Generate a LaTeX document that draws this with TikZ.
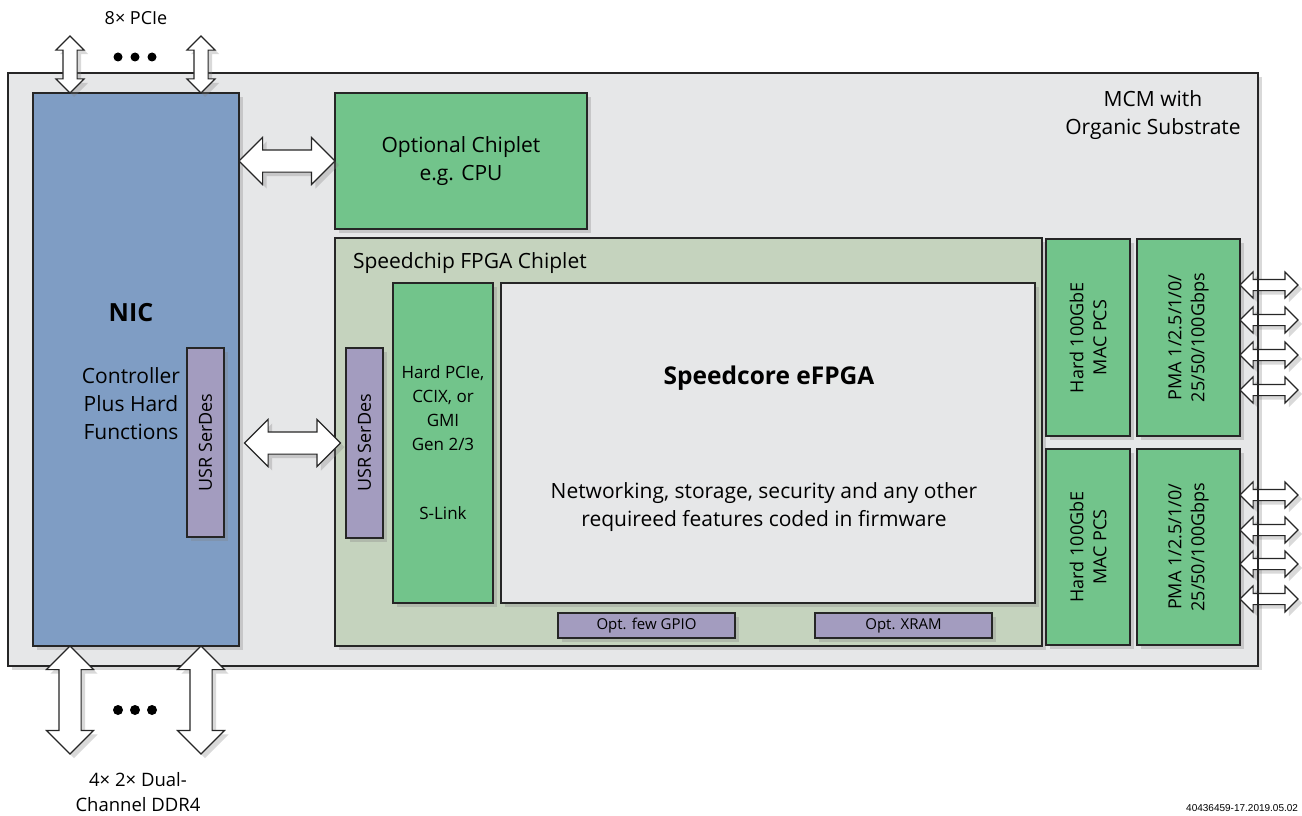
\documentclass[tikz,border=0pt]{standalone}
\usepackage{fontspec}
\setmainfont{Open Sans}
\newfontfamily\idfont{Liberation Sans}
\usepackage{xcolor}
\usetikzlibrary{shapes.arrows, shadows, positioning, calc}

\definecolor{mcmgray}{HTML}{E6E7E8}
\definecolor{nicblue}{HTML}{7F9DC4}
\definecolor{chipgreen}{HTML}{72C48B}
\definecolor{fpgagreen}{HTML}{C5D3BE}
\definecolor{serdespurple}{HTML}{A39CBF}

\begin{document}
\begin{tikzpicture}[
    x=1pt, y=-1pt,
    every node/.style={inner sep=0pt, outer sep=0pt, align=center, font=\fontsize{21}{28}\selectfont},
    box/.style={rectangle, draw=black!85, line width=1.2pt,
        drop shadow={shadow xshift=4pt, shadow yshift=-4pt, opacity=0.3}},
    mcm/.style={box, fill=mcmgray},
    nic/.style={box, fill=nicblue},
    chip/.style={box, fill=chipgreen},
    fpga/.style={box, fill=fpgagreen},
    serdes/.style={box, fill=serdespurple},
    core/.style={box, fill=mcmgray},
    busarrow/.style={double arrow, draw=black!85, line width=1.1pt, fill=white,
        inner xsep=0pt, inner ysep=10.5pt, double arrow head extend=12.5pt,
        minimum width=0pt, sloped,
        drop shadow={shadow xshift=4pt, shadow yshift=-4pt, opacity=0.3}},
    pciearrow/.style={busarrow, inner ysep=6.5pt, double arrow head extend=7pt},
    lanearrow/.style={busarrow, inner ysep=5pt, double arrow head extend=7.5pt},
    rottext/.style={rotate=90, font=\fontsize{18}{23}\selectfont}
]
\useasboundingbox (0,0) rectangle (1302,816);

\node[mcm, minimum width=1250pt, minimum height=593pt] (mcm) at (633,369.5) {};
\node (mcmlabel) at (1153,115) {MCM with\\Organic Substrate};

\node[nic, minimum width=206pt, minimum height=553pt] (nic) at (136,369.5) {};
\node[font=\fontsize{25}{28}\selectfont\bfseries] (nictitle) at (131,313) {NIC};
\node (nictext) at (131,404) {Controller\\Plus Hard\\Functions};
\node[serdes, minimum width=37pt, minimum height=189pt] (nicserdes) at (205.5,442.5) {};
\node[rottext] (nicserdeslabel) at (nicserdes) {USR SerDes};

\node[chip, minimum width=252pt, minimum height=136pt] (opt) at (461,161) {Optional Chiplet\\e.g. CPU};

\node[fpga, minimum width=707pt, minimum height=408pt] (fpga) at (688.5,442) {};
\node[anchor=west] (fpgalabel) at (353,263) {Speedchip FPGA Chiplet};
\node[serdes, minimum width=37pt, minimum height=190pt] (fserdes) at (364.5,443) {};
\node[rottext] (fserdeslabel) at (fserdes) {USR SerDes};
\node[chip, minimum width=100pt, minimum height=320pt, font=\fontsize{17}{24}\selectfont]
    (pcie) at (443,443) {Hard PCIe,\\CCIX, or\\GMI\\Gen 2/3\\[45pt]S-Link};
\node[core, minimum width=534pt, minimum height=320pt] (efpga) at (768,443) {};
\node[font=\fontsize{24.5}{28}\selectfont\bfseries] (efpgatitle) at (769,378) {Speedcore eFPGA};
\node (efpgatext) at (764,507) {Networking, storage, security and any other\\requireed features coded in firmware};
\node[serdes, minimum width=177pt, minimum height=25pt, font=\fontsize{15}{18}\selectfont] (gpio) at (646.5,625.5) {Opt. few GPIO};
\node[serdes, minimum width=177pt, minimum height=25pt, font=\fontsize{15}{18}\selectfont] (xram) at (903.5,625.5) {Opt. XRAM};

\node[chip, minimum width=84pt, minimum height=197pt] (mac1) at (1088,337.5) {};
\node[rottext] (mac1label) at (mac1) {Hard 100GbE\\MAC PCS};
\node[chip, minimum width=103pt, minimum height=197pt] (pma1) at (1188.5,337.5) {};
\node[rottext] (pma1label) at (pma1) {PMA 1/2.5/1/0/\\25/50/100Gbps};
\node[chip, minimum width=84pt, minimum height=196pt] (mac2) at (1088,547) {};
\node[rottext] (mac2label) at (mac2) {Hard 100GbE\\MAC PCS};
\node[chip, minimum width=103pt, minimum height=196pt] (pma2) at (1188.5,547) {};
\node[rottext] (pma2label) at (pma2) {PMA 1/2.5/1/0/\\25/50/100Gbps};

% Links
\path (nic.east |- opt.west) -- node[busarrow, minimum height=96pt] (optlink) {} (opt.west);
\path (nic.east |- fserdes.west) -- node[busarrow, minimum height=96pt] (serdeslink) {} (fserdes.west);

\coordinate (pcieA) at (70,36);
\coordinate (pcieB) at (201,36);
\path (pcieA) -- node[pciearrow, minimum height=57pt] (pcielinkA) {} (pcieA |- nic.north);
\path (pcieB) -- node[pciearrow, minimum height=57pt] (pcielinkB) {} (pcieB |- nic.north);

\coordinate (ddrA) at (70,754);
\coordinate (ddrB) at (201,754);
\path (ddrA |- nic.south) -- node[busarrow, minimum height=108pt] (ddrlinkA) {} (ddrA);
\path (ddrB |- nic.south) -- node[busarrow, minimum height=108pt] (ddrlinkB) {} (ddrB);

\foreach \y [count=\i] in {285,320,355,390} {
    \coordinate (laneA\i) at (1298,\y);
    \path (laneA\i -| pma1.east) -- node[lanearrow, minimum height=58pt] (lanelinkA\i) {} (laneA\i);
}
\foreach \y [count=\i] in {495,530,564,599} {
    \coordinate (laneB\i) at (1298,\y);
    \path (laneB\i -| pma2.east) -- node[lanearrow, minimum height=58pt] (lanelinkB\i) {} (laneB\i);
}
\draw[draw=black!85, line width=1.2pt] (mcm.north east) -- (mcm.south east);

\foreach \x in {118,135,152} {
    \fill (\x,57) circle (4.5pt);
    \fill (\x,710) circle (5pt);
}

% Annotations
\node[font=\fontsize{18}{20}\selectfont] (pcielabel) at (136,18) {8× PCIe};
\node[font=\fontsize{18.5}{25}\selectfont] (ddrlabel) at (138,792) {4× 2× Dual-\\Channel DDR4};
\node[anchor=east, font=\idfont\fontsize{10}{12}\selectfont] (docid) at (1298,808) {40436459-17.2019.05.02};

\end{tikzpicture}
\end{document}
